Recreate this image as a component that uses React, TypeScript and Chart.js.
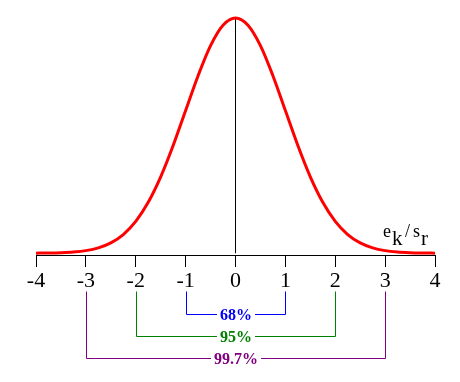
import React, { useEffect, useRef } from "react";
import { Chart, registerables } from "chart.js";

Chart.register(...registerables);

// Sample positions (in units of e_k / s_r) and the curve heights
const xValues = [
  -4, -3.75, -3.5, -3.25, -3, -2.75, -2.5, -2.25, -2, -1.75, -1.5, -1.25, -1, -0.75, -0.5, -0.25,
  0, 0.25, 0.5, 0.75, 1, 1.25, 1.5, 1.75, 2, 2.25, 2.5, 2.75, 3, 3.25, 3.5, 3.75, 4,
];
const curveValues = [
  0.0001, 0.0004, 0.0009, 0.002, 0.0044, 0.0091, 0.0175, 0.0317, 0.054, 0.0863, 0.1295, 0.1826,
  0.242, 0.3011, 0.3521, 0.3867, 0.3989, 0.3867, 0.3521, 0.3011, 0.242, 0.1826, 0.1295, 0.0863,
  0.054, 0.0317, 0.0175, 0.0091, 0.0044, 0.002, 0.0009, 0.0004, 0.0001,
];
const centerLineX = [0, 0];
const centerLineY = [0, 0.3989];

const tickValues = [-4, -3, -2, -1, 0, 1, 2, 3, 4];

const bracketFrom = [-1, -2, -3];
const bracketTo = [1, 2, 3];
const bracketLabels = ["68%", "95%", "99.7%"];

const bracketColors = ["#0000ff", "#008000", "#800080"];
const bracketLineY = [314.5, 336.5, 358.5];

export default function App() {
  const ref = useRef<HTMLCanvasElement | null>(null);

  useEffect(() => {
    if (!ref.current) return;
    const bracketPlugin = {
      id: "brackets",
      afterDraw(chart: any) {
        const ctx = chart.ctx;
        const xs = chart.scales.x;
        ctx.save();
        const topY = 291.5;
        bracketFrom.forEach((f, i) => {
          const x1 = Math.round(xs.getPixelForValue(f)) + 0.5;
          const x2 = Math.round(xs.getPixelForValue(bracketTo[i])) + 0.5;
          const y = bracketLineY[i];
          const cx = (x1 + x2) / 2;
          ctx.font = "bold 16px 'Liberation Serif'";
          const w = ctx.measureText(bracketLabels[i]).width;
          const gap = w / 2 + 3;
          ctx.strokeStyle = bracketColors[i];
          ctx.lineWidth = 1;
          ctx.beginPath();
          ctx.moveTo(cx - gap, y);
          ctx.lineTo(x1, y);
          ctx.lineTo(x1, topY);
          ctx.moveTo(cx + gap, y);
          ctx.lineTo(x2, y);
          ctx.lineTo(x2, topY);
          ctx.stroke();
          ctx.fillStyle = bracketColors[i];
          ctx.textAlign = "center";
          ctx.textBaseline = "middle";
          ctx.fillText(bracketLabels[i], cx, y + 1);
        });
        // axis label e_k / s_r
        ctx.fillStyle = "#000";
        ctx.textAlign = "left";
        ctx.textBaseline = "alphabetic";
        ctx.font = "18px 'Liberation Serif'";
        ctx.fillText("e", 383, 237);
        ctx.font = "21px 'Liberation Serif'";
        ctx.fillText("k", 392, 245);
        ctx.font = "18px 'Liberation Serif'";
        ctx.fillText("/", 405, 237);
        ctx.fillText("s", 413, 237);
        ctx.font = "21px 'Liberation Serif'";
        ctx.fillText("r", 421, 245);
        ctx.restore();
      },
    };

    const chart = new Chart(ref.current, {
      type: "line",
      data: {
        datasets: [
          {
            data: xValues.map((x, i) => ({ x, y: curveValues[i] })),
            borderColor: "#ff0000",
            borderWidth: 3,
            pointRadius: 0,
            cubicInterpolationMode: "monotone",
            clip: false as any,
          },
          {
            data: centerLineX.map((x, i) => ({ x, y: centerLineY[i] })),
            borderColor: "#000000",
            borderWidth: 1,
            pointRadius: 0,
            clip: false as any,
          },
        ],
      },
      options: {
        responsive: false,
        animation: false,
        devicePixelRatio: 1,
        layout: { padding: { left: 36, right: 25, top: 18, bottom: 0 } },
        plugins: { legend: { display: false }, tooltip: { enabled: false } },
        scales: {
          x: {
            type: "linear",
            min: -4,
            max: 4,
            afterFit: (scale: any) => {
              scale.height = 127;
            },
            afterBuildTicks: (scale: any) => {
              scale.ticks = tickValues.map((v) => ({ value: v }));
            },
            border: { display: true, color: "#000", width: 1 },
            grid: {
              drawOnChartArea: false,
              drawTicks: true,
              tickLength: 12,
              color: "#000",
              lineWidth: 1,
            },
            ticks: {
              color: "#000",
              font: { family: "'Liberation Serif'", size: 22 },
              padding: 1,
              maxRotation: 0,
              autoSkip: false,
              callback: (v: any) => String(v),
            },
          },
          y: {
            display: false,
            min: -0.003,
            max: 0.3989,
          },
        },
      },
      plugins: [bracketPlugin],
    });
    return () => chart.destroy();
  }, []);

  return (
    <div style={{ position: "absolute", left: 0, top: 0, width: 460, height: 382, background: "#fff" }}>
      <canvas ref={ref} width={460} height={382} />
    </div>
  );
}
